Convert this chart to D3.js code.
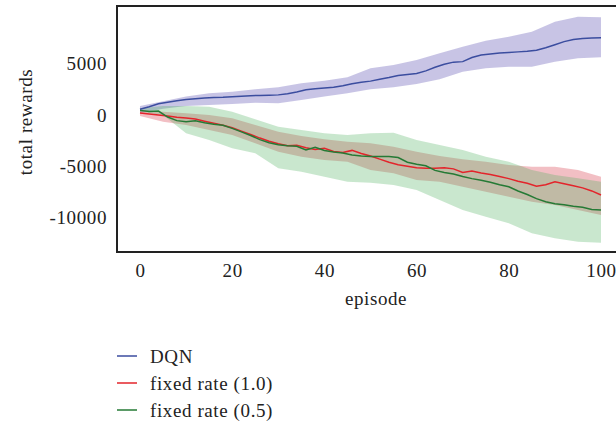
<!DOCTYPE html>
<html><head><meta charset="utf-8">
<script src="https://cdn.jsdelivr.net/npm/d3@7"></script>
<style>html,body{margin:0;padding:0;background:#fff;}svg text{font-family:"Liberation Serif","DejaVu Serif",serif;fill:#222;letter-spacing:0.6px;}</style>
</head><body><svg id="c" width="616" height="421"></svg>
<script>
// ---- data ----
const episodes = d3.range(0, 101, 2);           // line sample episodes
const bandEpisodes = d3.range(0, 101, 5);       // band sample episodes
const seriesNames = ["DQN", "fixed rate (1.0)", "fixed rate (0.5)"];
const xTicks = [0, 20, 40, 60, 80, 100];
const yTicks = [-10000, -5000, 0, 5000];

const dqnMean = [550,800,1100,1250,1390,1500,1590,1650,1700,1730,1780,1830,1880,1900,1930,1960,2080,2250,2450,2550,2620,2700,2850,3050,3180,3300,3480,3650,3850,3950,4050,4300,4650,4950,5150,5200,5600,5850,5950,6050,6100,6150,6200,6300,6550,6850,7150,7350,7450,7500,7530];
const rate10Mean = [200,100,0,-100,-220,-300,-400,-600,-800,-1000,-1250,-1580,-1900,-2250,-2550,-2800,-3000,-2950,-3200,-3350,-3250,-3550,-3650,-3450,-3750,-4000,-4300,-4600,-4850,-5000,-5150,-5200,-5200,-5150,-5250,-5600,-5450,-5650,-5800,-6000,-6200,-6450,-6650,-6950,-6800,-6500,-6700,-6900,-7100,-7400,-7800];
const rate05Mean = [450,350,380,-200,-550,-650,-560,-750,-900,-1000,-1300,-1650,-2000,-2400,-2700,-2900,-3000,-3050,-3400,-3150,-3450,-3600,-3700,-3900,-4000,-4050,-4050,-4050,-4150,-4600,-4800,-4950,-5400,-5600,-5750,-6000,-6200,-6350,-6550,-6800,-7000,-7400,-7750,-8150,-8450,-8650,-8750,-8900,-9000,-9200,-9260];

const dqnUpper = [880,1350,1790,2110,2270,2500,2700,3090,3340,3670,4550,4870,5360,6010,6660,7240,7630,8120,9090,9580,9520];
const dqnLower = [200,600,880,975,1070,1200,1140,1460,1790,2110,2500,2700,3020,3480,4220,4550,4710,4710,5200,5520,5620];
const rate10Upper = [490,320,165,0,-325,-975,-1630,-2050,-2370,-2600,-2760,-3090,-3580,-4000,-4320,-4550,-4870,-5040,-5040,-5360,-6010];
const rate10Lower = [-100,-650,-975,-1460,-1950,-2760,-3580,-4060,-4390,-4550,-5360,-5680,-6340,-6500,-6990,-7470,-7960,-8450,-8770,-9260,-9750];
const rate05Upper = [650,880,880,810,320,-420,-1140,-1460,-1790,-1950,-1790,-1720,-2440,-2920,-3410,-4060,-4550,-5360,-5850,-6170,-6500];
const rate05Lower = [320,0,-1790,-2440,-3250,-3730,-5200,-5530,-6010,-6500,-6600,-6820,-7310,-8280,-9260,-9910,-10560,-11530,-12020,-12350,-12440];

const lineColors = ["#3b4d9f", "#e3242b", "#257a35"];
const bandColors = ["#4a3ca8", "#d42a3c", "#4cb05c"];

// ---- drawing ----
const svg = d3.select("#c");
const plotLeft = 117, plotTop = 6, plotBottom = 252;
const fs = 19;
const x = d3.scaleLinear().domain([0, 100]).range([140, 601]);
const y = d3.scaleLinear().domain([-13350, 10620]).range([plotBottom, plotTop]);

const series = [
  {mean: dqnMean, upper: dqnUpper, lower: dqnLower},
  {mean: rate10Mean, upper: rate10Upper, lower: rate10Lower},
  {mean: rate05Mean, upper: rate05Upper, lower: rate05Lower}
];

const area = d3.area().x(d => x(d.e)).y0(d => y(d.lo)).y1(d => y(d.hi));
const line = d3.line().x(d => x(d.e)).y(d => y(d.v));

// bands
series.forEach((s, i) => {
  const pts = bandEpisodes.map((e, k) => ({e, lo: s.lower[k], hi: s.upper[k]}));
  svg.append("path").attr("d", area(pts)).attr("fill", bandColors[i]).attr("fill-opacity", 0.3);
});
// lines
series.forEach((s, i) => {
  const pts = episodes.map((e, k) => ({e, v: s.mean[k]}));
  svg.append("path").attr("d", line(pts)).attr("fill", "none")
    .attr("stroke", lineColors[i]).attr("stroke-width", 1.5);
});

// frame (right side cropped off in the original)
svg.append("path").attr("d", `M630,${plotTop}H${plotLeft}V${plotBottom}H630`)
  .attr("fill", "none").attr("stroke", "#222").attr("stroke-width", 2);

// axes
const xAxis = svg.append("g").attr("transform", `translate(0,${plotBottom})`)
  .call(d3.axisBottom(x).tickValues(xTicks).tickFormat(d => String(d)).tickSize(0).tickPadding(12));
xAxis.select(".domain").remove();
xAxis.selectAll("text").attr("font-size", fs).attr("font-family", null);

const yAxis = svg.append("g").attr("transform", `translate(${plotLeft},0)`)
  .call(d3.axisLeft(y).tickValues(yTicks).tickFormat(d => String(d)).tickSize(0).tickPadding(10));
yAxis.select(".domain").remove();
yAxis.selectAll("text").attr("font-size", fs).attr("font-family", null);

svg.append("text").attr("x", 376).attr("y", 305).attr("text-anchor", "middle")
  .attr("font-size", fs).text("episode");
svg.append("text").attr("transform", "translate(32,122) rotate(-90)")
  .attr("text-anchor", "middle").attr("font-size", fs).text("total rewards");

// legend
const lg = svg.append("g");
seriesNames.forEach((n, i) => {
  const yy = 356 + i * 27;
  lg.append("line").attr("x1", 117).attr("x2", 137).attr("y1", yy).attr("y2", yy)
    .attr("stroke", lineColors[i]).attr("stroke-width", 1.5);
  lg.append("text").attr("x", 150).attr("y", yy).attr("dy", "0.35em")
    .attr("font-size", fs).text(n);
});
</script></body></html>
